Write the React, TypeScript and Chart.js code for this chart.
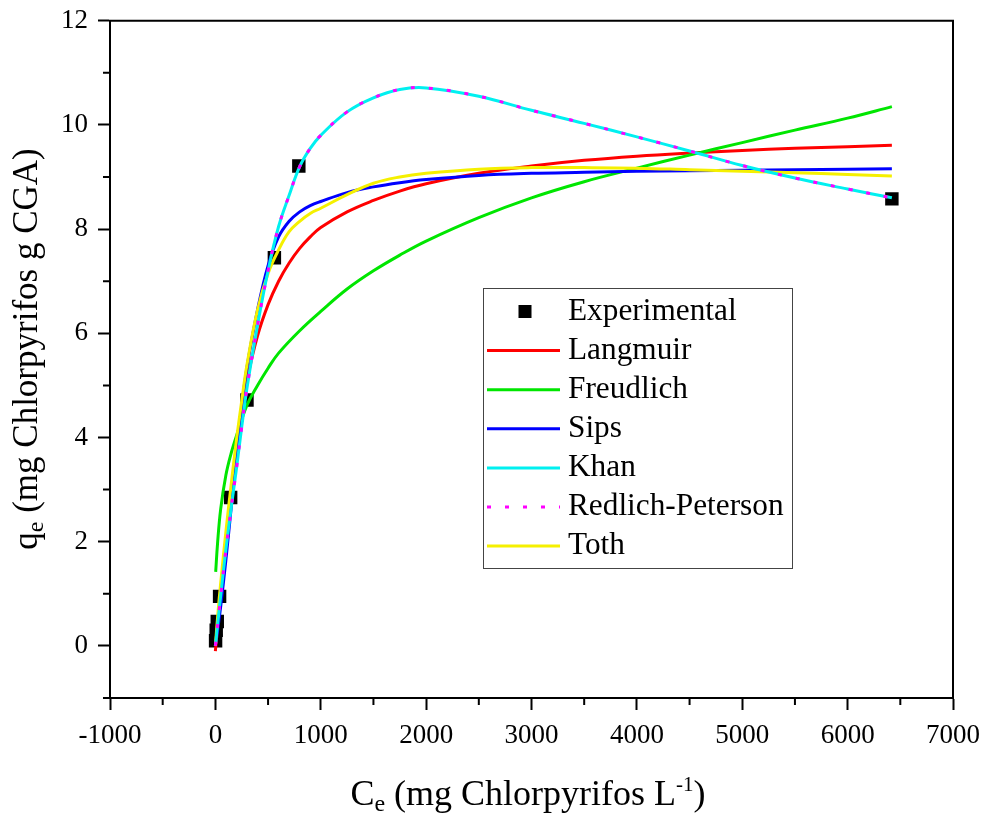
import React, { useEffect, useRef } from 'react';
import { Chart, registerables } from 'chart.js';
Chart.register(...registerables);

const FONT = "'Liberation Serif', 'Times New Roman', serif";

// Experimental points
const expX = [2, 8, 18, 40, 145, 300, 560, 792, 6420];
const expY = [0.1, 0.3, 0.47, 0.95, 2.85, 4.72, 7.45, 9.21, 8.58];

// Fitted curves
const fitX = [0, 25, 50, 100, 150, 200, 250, 300, 400, 500, 600, 700, 800, 900, 1000, 1250, 1500, 1750, 2000, 2500, 3000, 3500, 4000, 4500, 5000, 5500, 6000, 6420];
const langmuirY = [-0.1, 0.45, 0.95, 1.95, 2.9, 3.75, 4.5, 5.1, 5.95, 6.55, 7.0, 7.35, 7.63, 7.85, 8.03, 8.33, 8.55, 8.73, 8.87, 9.07, 9.21, 9.32, 9.4, 9.46, 9.51, 9.55, 9.58, 9.61];
const sipsY = [0, 0.35, 0.75, 1.65, 2.65, 3.65, 4.6, 5.35, 6.45, 7.3, 7.85, 8.15, 8.33, 8.45, 8.53, 8.7, 8.81, 8.89, 8.95, 9.03, 9.07, 9.09, 9.11, 9.12, 9.13, 9.14, 9.15, 9.16];
const khanY = [0, 0.48, 0.95, 1.85, 2.65, 3.4, 4.2, 4.95, 6.15, 7.2, 8.05, 8.65, 9.2, 9.55, 9.8, 10.25, 10.52, 10.68, 10.71, 10.55, 10.28, 10.03, 9.77, 9.5, 9.22, 8.98, 8.77, 8.6];
const redlichY = [0, 0.48, 0.95, 1.85, 2.65, 3.4, 4.2, 4.95, 6.15, 7.2, 8.05, 8.65, 9.2, 9.55, 9.8, 10.25, 10.52, 10.68, 10.71, 10.55, 10.28, 10.03, 9.77, 9.5, 9.22, 8.98, 8.77, 8.6];
const tothY = [0, 0.65, 1.2, 2.2, 3.1, 3.95, 4.7, 5.4, 6.45, 7.15, 7.6, 7.95, 8.15, 8.3, 8.4, 8.66, 8.88, 9.0, 9.07, 9.15, 9.18, 9.18, 9.17, 9.14, 9.11, 9.08, 9.05, 9.02];
const freundX = [3, 20, 50, 100, 150, 200, 300, 400, 500, 600, 800, 1000, 1250, 1500, 1750, 2000, 2500, 3000, 3500, 4000, 4500, 5000, 5500, 6000, 6420];
const freundY = [1.42, 1.95, 2.62, 3.28, 3.7, 4.03, 4.62, 5.0, 5.33, 5.62, 6.05, 6.42, 6.85, 7.2, 7.5, 7.77, 8.22, 8.6, 8.91, 9.17, 9.42, 9.66, 9.9, 10.13, 10.35];

// Axes
const xMajorTicks = [-1000, 0, 1000, 2000, 3000, 4000, 5000, 6000, 7000];
const xMinorTicks = [-500, 500, 1500, 2500, 3500, 4500, 5500, 6500];
const yMajorTicks = [0, 2, 4, 6, 8, 10, 12];
const yMinorTicks = [-1, 1, 3, 5, 7, 9, 11];

const legendOrder = ['Experimental', 'Langmuir', 'Freudlich', 'Sips', 'Khan', 'Redlich-Peterson', 'Toth'];

const pts = (xs: number[], ys: number[]) => xs.map((x, i) => ({ x, y: ys[i] }));

type Part = { t: string; size: number; dy: number };

function drawParts(ctx: CanvasRenderingContext2D, parts: Part[], cx: number, baseY: number) {
  let total = 0;
  parts.forEach(p => {
    ctx.font = `${p.size}px ${FONT}`;
    total += ctx.measureText(p.t).width;
  });
  let x = cx - total / 2;
  ctx.textAlign = 'left';
  ctx.textBaseline = 'alphabetic';
  parts.forEach(p => {
    ctx.font = `${p.size}px ${FONT}`;
    ctx.fillText(p.t, x, baseY + p.dy);
    x += ctx.measureText(p.t).width;
  });
}

const decor = {
  id: 'decor',
  afterDraw(chart: any) {
    const { ctx, chartArea: a, scales } = chart;
    const xs = scales.x, ys = scales.y;
    ctx.save();
    ctx.strokeStyle = '#000';
    ctx.lineWidth = 2;
    ctx.beginPath();
    ctx.moveTo(a.left - 1, a.top);
    ctx.lineTo(a.right, a.top);
    ctx.lineTo(a.right, a.bottom + 1);
    ctx.stroke();
    ctx.beginPath();
    xMinorTicks.forEach(v => {
      const p = xs.getPixelForValue(v);
      ctx.moveTo(p, a.bottom);
      ctx.lineTo(p, a.bottom + 7);
    });
    yMinorTicks.forEach(v => {
      const p = ys.getPixelForValue(v);
      ctx.moveTo(a.left, p);
      ctx.lineTo(a.left - 7, p);
    });
    ctx.stroke();

    // axis titles
    ctx.fillStyle = '#000';
    drawParts(ctx, [
      { t: 'C', size: 36, dy: 0 },
      { t: 'e', size: 24, dy: 6 },
      { t: ' (mg Chlorpyrifos L', size: 36, dy: 0 },
      { t: '-1', size: 21, dy: -14 },
      { t: ')', size: 36, dy: 0 },
    ], 528, 805);
    ctx.save();
    ctx.translate(37, 349);
    ctx.rotate(-Math.PI / 2);
    drawParts(ctx, [
      { t: 'q', size: 35, dy: 0 },
      { t: 'e', size: 24, dy: 6 },
      { t: ' (mg Chlorpyrifos g CGA)', size: 35, dy: 0 },
    ], 0, 0);
    ctx.restore();

    // legend
    const bx = 483, by = 288, bw = 309, bh = 280;
    ctx.fillStyle = '#fff';
    ctx.fillRect(bx, by, bw, bh);
    ctx.strokeStyle = '#444';
    ctx.lineWidth = 1;
    ctx.strokeRect(bx + 0.5, by + 0.5, bw, bh);
    const dsList = chart.data.datasets;
    legendOrder.forEach((label, i) => {
      const ds = dsList.find((d: any) => d.label === label);
      const cy = 311.5 + i * 39.1;
      if (label === 'Experimental') {
        ctx.fillStyle = '#000';
        ctx.fillRect(525 - 6.5, cy - 6.5, 13, 13);
      } else {
        ctx.save();
        ctx.strokeStyle = ds.borderColor;
        ctx.lineWidth = ds.borderWidth;
        ctx.setLineDash(ds.borderDash || []);
        ctx.beginPath();
        ctx.moveTo(487, cy);
        ctx.lineTo(560, cy);
        ctx.stroke();
        ctx.restore();
      }
      ctx.fillStyle = '#000';
      ctx.font = `31.3px ${FONT}`;
      ctx.textAlign = 'left';
      ctx.textBaseline = 'middle';
      ctx.fillText(label, 568, cy);
    });
    ctx.restore();
  },
};

export default function App() {
  const ref = useRef<HTMLCanvasElement>(null);
  useEffect(() => {
    document.body.style.margin = '0';
    const lineDs = (label: string, data: any[], color: string, order: number, extra: any = {}) => ({
      label,
      data,
      showLine: true,
      borderColor: color,
      backgroundColor: color,
      borderWidth: 3,
      pointRadius: 0,
      tension: 0.4,
      order,
      ...extra,
    });
    const chart = new Chart(ref.current as HTMLCanvasElement, {
      type: 'scatter',
      data: {
        datasets: [
          {
            label: 'Experimental',
            data: pts(expX, expY),
            pointStyle: 'rect',
            pointRadius: 9.5,
            backgroundColor: '#000',
            borderWidth: 0,
            showLine: false,
            order: 10,
          } as any,
          lineDs('Langmuir', pts(fitX, langmuirY), '#ff0000', 7),
          lineDs('Freudlich', pts(freundX, freundY), '#00e600', 6),
          lineDs('Sips', pts(fitX, sipsY), '#0000ff', 5),
          lineDs('Toth', pts(fitX, tothY), '#f5f000', 4),
          lineDs('Khan', pts(fitX, khanY), '#00f0f0', 3),
          lineDs('Redlich-Peterson', pts(fitX, redlichY), '#ff00ff', 1, { borderDash: [4, 14], borderWidth: 3 }),
        ],
      },
      options: {
        animation: false,
        responsive: false,
        devicePixelRatio: 1,
        layout: { padding: { top: 20.7, right: 35, left: 0, bottom: 0 } },
        plugins: { legend: { display: false }, tooltip: { enabled: false } },
        scales: {
          x: {
            type: 'linear',
            min: -1000,
            max: 7000,
            afterBuildTicks: (s: any) => { s.ticks = xMajorTicks.map(v => ({ value: v })); },
            afterFit: (s: any) => { s.height = 116; s.paddingLeft = 0; s.paddingRight = 0; },
            border: { display: true, color: '#000', width: 2 },
            grid: { display: true, drawOnChartArea: false, drawTicks: true, tickLength: 12, tickWidth: 2, tickColor: '#000', color: '#000' },
            ticks: { color: '#000', font: { family: FONT, size: 27 }, padding: 10, maxRotation: 0, callback: (v: any) => String(v) },
          },
          y: {
            type: 'linear',
            min: -1,
            max: 12,
            afterBuildTicks: (s: any) => { s.ticks = yMajorTicks.map(v => ({ value: v })); },
            afterFit: (s: any) => { s.width = 110; s.paddingTop = 0; s.paddingBottom = 0; },
            border: { display: true, color: '#000', width: 2 },
            grid: { display: true, drawOnChartArea: false, drawTicks: true, tickLength: 12, tickWidth: 2, tickColor: '#000', color: '#000' },
            ticks: { color: '#000', font: { family: FONT, size: 27 }, padding: 10, callback: (v: any) => String(v) },
          },
        },
      },
      plugins: [decor],
    } as any);
    return () => chart.destroy();
  }, []);
  return <canvas ref={ref} width={988} height={814} style={{ display: 'block' }} />;
}
